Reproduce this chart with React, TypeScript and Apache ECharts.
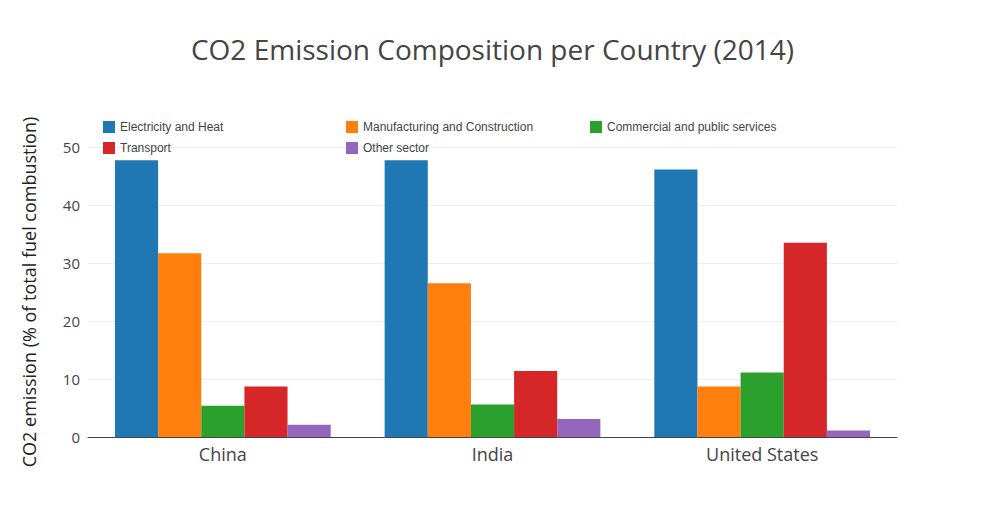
import * as echarts from "echarts";
import { useEffect, useRef } from "react";

const countries = ["China", "India", "United States"];
const electricity = [47.7, 47.7, 46.1];
const manufacturing = [31.7, 26.5, 8.7];
const commercial = [5.4, 5.6, 11.1];
const transport = [8.7, 11.4, 33.5];
const other = [2.1, 3.1, 1.1];
const yTicks = [0, 10, 20, 30, 40, 50];

const font = "Open Sans, sans-serif";

const App = () => {
  const chartRef = useRef(null);

  useEffect(() => {
    const chart = echarts.init(chartRef.current, null, { renderer: "svg" });
    const legendBase = {
      orient: "vertical" as const,
      top: 108,
      itemWidth: 12,
      itemHeight: 12,
      itemGap: 9,
      icon: "rect",
      textStyle: { fontSize: 12, color: "#444", fontFamily: "Arial, sans-serif" },
    };
    const bar = (name: string, data: number[], color: string) => ({
      name,
      type: "bar" as const,
      data,
      itemStyle: { color },
      barGap: "0%",
      barCategoryGap: "20%",
    });
    chart.setOption({
      animation: false,
      title: {
        text: "CO2 Emission Composition per Country (2014)",
        left: "center",
        top: 22,
        textStyle: { fontSize: 28, color: "#444", fontWeight: "normal", fontFamily: font },
      },
      legend: [
        { ...legendBase, left: 90, data: ["Electricity and Heat", "Transport"] },
        { ...legendBase, left: 333, data: ["Manufacturing and Construction", "Other sector"] },
        { ...legendBase, left: 577, data: ["Commercial and public services"] },
      ],
      grid: { left: 80, right: 80, top: 139, bottom: 80 },
      xAxis: {
        type: "category",
        data: countries,
        axisTick: { show: false },
        axisLine: { lineStyle: { color: "#444" } },
        axisLabel: { fontSize: 18, color: "#444", fontFamily: font, margin: 8 },
      },
      yAxis: {
        type: "value",
        min: yTicks[0],
        max: yTicks[yTicks.length - 1],
        interval: 10,
        name: "CO2 emission (% of total fuel combustion)",
        nameLocation: "middle",
        nameGap: 50,
        nameTextStyle: { fontSize: 18, color: "#222", fontFamily: font },
        axisLabel: { fontSize: 15, color: "#444", fontFamily: font },
        splitLine: { lineStyle: { color: "#eee" } },
        axisLine: { show: false },
      },
      series: [
        bar("Electricity and Heat", electricity, "#1f77b4"),
        bar("Manufacturing and Construction", manufacturing, "#ff7f0e"),
        bar("Commercial and public services", commercial, "#2ca02c"),
        bar("Transport", transport, "#d62728"),
        bar("Other sector", other, "#9467bd"),
      ],
    });
    return () => chart.dispose();
  }, []);

  return <div ref={chartRef} style={{ width: "969px", height: "509px" }} />;
};

export default App;
